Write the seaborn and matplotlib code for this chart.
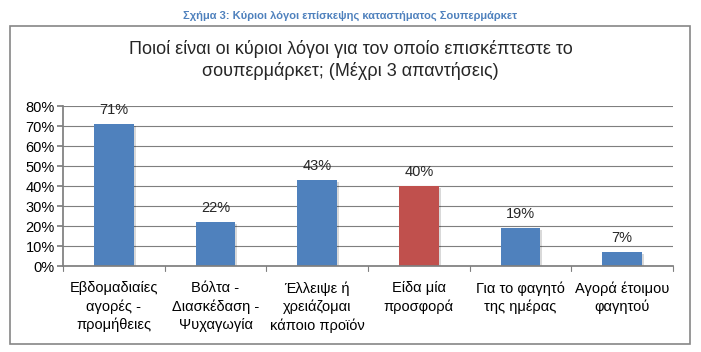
import matplotlib
matplotlib.use("Agg")
import matplotlib.pyplot as plt
import matplotlib.patheffects as pe
import seaborn as sns
import pandas as pd
from matplotlib.patches import Rectangle
from matplotlib.ticker import FuncFormatter, MultipleLocator

categories = ["Εβδομαδιαίες\nαγορές -\nπρομήθειες",
              "Βόλτα -\nΔιασκέδαση -\nΨυχαγωγία",
              "Έλλειψε ή\nχρειάζομαι\nκάποιο προϊόν",
              "Είδα μία\nπροσφορά",
              "Για το φαγητό\nτης ημέρας",
              "Αγορά έτοιμου\nφαγητού"]
values = [71, 22, 43, 40, 19, 7]
highlight = [False, False, False, True, False, False]
caption = "Σχήμα 3: Κύριοι λόγοι επίσκεψης καταστήματος Σουπερμάρκετ"
title = "Ποιοί είναι οι κύριοι λόγοι για τον οποίο επισκέπτεστε το\nσουπερμάρκετ; (Μέχρι 3 απαντήσεις)"

sns.set_theme(style="white")
plt.rcParams['font.family'] = ['Liberation Sans', 'DejaVu Sans']

df = pd.DataFrame({"cat": categories, "val": values,
                   "hl": ["h" if h else "n" for h in highlight]})

fig = plt.figure(figsize=(7.01, 3.52), dpi=100)
W, H = 701, 352
ax = fig.add_axes([63 / W, 1 - 266 / H, 610 / W, 160 / H])

sns.barplot(data=df, x="cat", y="val", hue="hl",
            palette={"n": "#4F81BD", "h": "#C0504D"},
            width=0.39, dodge=False, legend=False, ax=ax, saturation=1,
            linewidth=0)
for p in ax.patches:
    p.set_path_effects([pe.SimplePatchShadow(offset=(1.5, -1.5), alpha=0.15,
                                             shadow_rgbFace="#000000"),
                        pe.Normal()])

ax.set_ylim(0, 80)
ax.set_xlim(-0.5, len(categories) - 0.5)
ax.yaxis.set_major_locator(MultipleLocator(10))
ax.yaxis.set_major_formatter(FuncFormatter(lambda v, p: f"{int(v)}%"))
ax.grid(axis="y", color="#7f7f7f", linewidth=0.8)
ax.set_axisbelow(True)
for s in ["top", "right"]:
    ax.spines[s].set_visible(False)
ax.spines["left"].set_color("#7f7f7f")
ax.spines["bottom"].set_color("#7f7f7f")
ax.set_xlabel("")
ax.set_ylabel("")
ax.tick_params(axis="y", labelsize=10.5, length=4, color="#7f7f7f",
               direction="out", left=True, pad=2, labelcolor="black")
ax.set_xticks(range(len(categories)))
ax.set_xticklabels(categories, fontsize=10.5, linespacing=1.35)
ax.tick_params(axis="x", length=0, pad=11, labelcolor="black")
for b in [i - 0.5 for i in range(len(categories) + 1)]:
    ax.plot([b, b], [0, -2.5], color="#7f7f7f", lw=0.8, clip_on=False)

for i, v in enumerate(values):
    ax.text(i, v + 3.5, f"{v}%", ha="center", va="bottom", fontsize=10.5)

# outer chart border
fig.patches.append(Rectangle((10 / W, 1 - 344 / H), 680 / W, 318 / H,
                             transform=fig.transFigure, fill=False,
                             edgecolor="#868686", linewidth=1.2))
fig.text(0.5, 1 - 16 / H, caption, ha="center", va="center",
         fontsize=8, color="#4F81BD", fontweight="bold")
fig.text(0.5, 1 - 60 / H, title, ha="center", va="center",
         fontsize=13, linespacing=1.35)

fig.savefig("out.png", dpi=100)
